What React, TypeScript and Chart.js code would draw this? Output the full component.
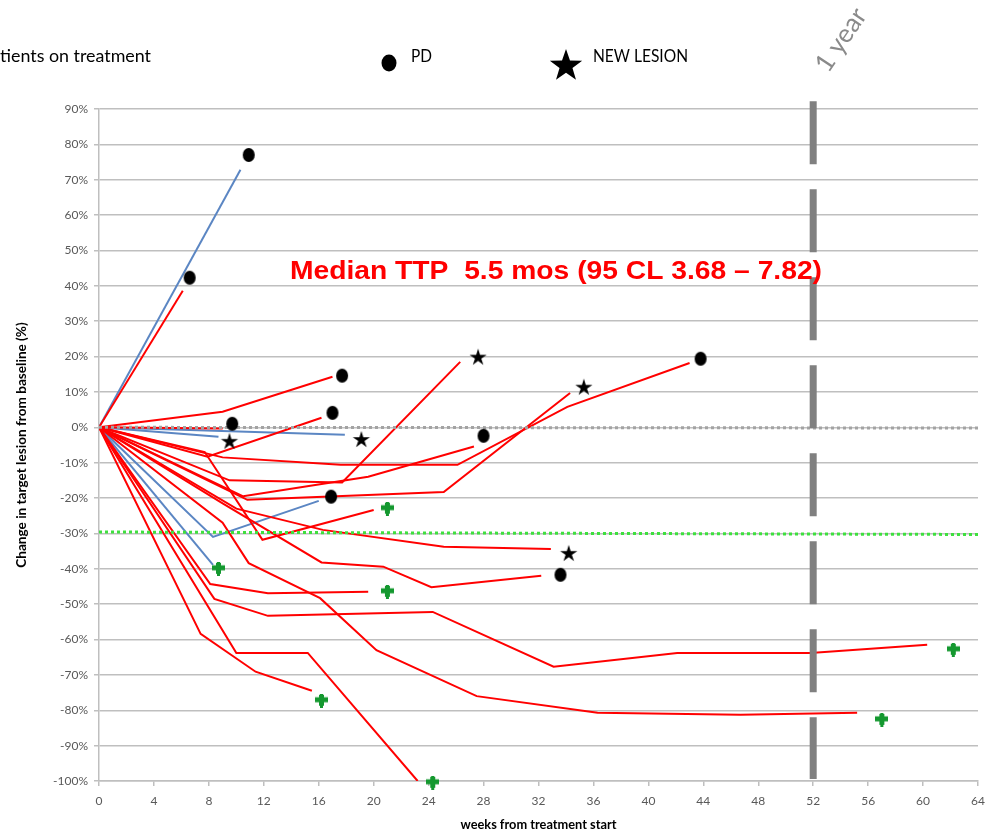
import React, { useEffect, useRef } from "react";
import { Chart, registerables } from "chart.js";

Chart.register(...registerables);

type Pt = [number, number];

// ---- data: [week, % change from baseline] ----
// blue lines
const blue1: Pt[] = [[0, 0], [10.3, 72.8]];
const blue2: Pt[] = [[0, 0], [8.7, -2.7]];
const blue3: Pt[] = [[0, 0], [17.9, -2.1]];
const blue4: Pt[] = [[0, 0], [8.3, -31], [16.0, -20.8]];
const blue5: Pt[] = [[0, 0], [8.3, -38.9]];

// red lines
const red0: Pt[] = [[0, 0], [9, -0.3]];
const red1: Pt[] = [[0, 0], [6.1, 38.6]];
const red2: Pt[] = [[0, 0], [9.0, 4.4], [17.0, 14.3]];
const red3: Pt[] = [[0, 0], [7.9, -8.3], [16.2, 2.7]];
const red4: Pt[] = [[0, 0], [7.7, -7], [11.9, -31.8], [20.0, -23.4]];
const red5: Pt[] = [[0, 0], [9.5, -15], [17.7, -15.6], [26.3, 18.5]];
const red6: Pt[] = [[0, 0], [9.0, -8.5], [17.6, -10.6], [26.1, -10.6], [34.1, 5.8], [43.0, 18.2]];
const red7: Pt[] = [[0, 0], [10.8, -20.5], [25.1, -18.3], [34.3, 9.7]];
const red8: Pt[] = [[0, 0], [10.5, -19.5], [19.6, -14], [27.3, -5.4]];
const red9: Pt[] = [[0, 0], [10, -23], [16.3, -29], [25.1, -33.8], [32.9, -34.4]];
const red10: Pt[] = [[0, 0], [9, -21.5], [16.2, -38.2], [20.7, -39.4], [24.2, -45.2], [32.2, -42]];
const red11: Pt[] = [[0, 0], [8.1, -44.3], [12.3, -46.9], [19.6, -46.5]];
const red12: Pt[] = [[0, 0], [8.4, -48.5], [12.3, -53.3], [24.3, -52.2], [33.1, -67.7], [42.1, -63.8], [51.8, -63.8], [60.3, -61.5]];
const red13: Pt[] = [[0, 0], [9, -27], [10.9, -38.4], [16.1, -48.3], [20.2, -63], [27.5, -76], [36.3, -80.7], [46.7, -81.3], [55.2, -80.7]];
const red14: Pt[] = [[0, 0], [10, -63.8], [15.2, -63.8], [23.2, -100]];
const red15: Pt[] = [[0, 0], [7.4, -58.4], [11.4, -69.1], [15.5, -74.5]];

// markers
const pdPoints: Pt[] = [[10.9, 77], [6.6, 42.3], [17.7, 14.6], [17, 4.1], [9.7, 1.0], [16.9, -19.6], [28, -2.4], [43.8, 19.4], [33.6, -41.7]];
const newLesionPoints: Pt[] = [[9.5, -3.8], [19.1, -3.3], [27.6, 20], [35.3, 11.5], [34.2, -35.5]];
const onTreatmentPoints: Pt[] = [[8.7, -40], [21, -23], [21, -46.5], [16.2, -77.3], [24.3, -100.5], [57, -82.7], [62.2, -62.9]];

// reference lines
const zeroLine: Pt[] = [[0, 0], [64, -0.2]];
const prLine: Pt[] = [[0, -29.6], [64, -30.3]];
const oneYearLine: Pt[] = [[52, 92.2], [52, -99.4]];

// axes
const weekTicks = [0, 4, 8, 12, 16, 20, 24, 28, 32, 36, 40, 44, 48, 52, 56, 60, 64];
const pctTicks = [-100, -90, -80, -70, -60, -50, -40, -30, -20, -10, 0, 10, 20, 30, 40, 50, 60, 70, 80, 90];

const blueLines = [blue1, blue2, blue3, blue4, blue5];
const redLines = [red0, red1, red2, red3, red4, red5, red6, red7, red8, red9, red10, red11, red12, red13, red14, red15];

const RED = "#ff0000";
const BLUE = "#5b86c3";
const GREEN_MARK = "#14982f";

function toXY(pts: Pt[]) {
  return pts.map(([x, y]) => ({ x, y }));
}

function makeEllipse(rx: number, ry: number, color: string) {
  const c = document.createElement("canvas");
  c.width = Math.ceil(rx * 2 + 2);
  c.height = Math.ceil(ry * 2 + 2);
  const g = c.getContext("2d")!;
  g.fillStyle = color;
  g.beginPath();
  g.ellipse(c.width / 2, c.height / 2, rx, ry, 0, 0, Math.PI * 2);
  g.fill();
  return c;
}

function starPath(g: CanvasRenderingContext2D, cx: number, cy: number, outer: number, inner: number) {
  g.beginPath();
  for (let i = 0; i < 10; i++) {
    const r = i % 2 === 0 ? outer : inner;
    const a = -Math.PI / 2 + (i * Math.PI) / 5;
    const x = cx + r * Math.cos(a);
    const y = cy + r * Math.sin(a);
    if (i === 0) g.moveTo(x, y);
    else g.lineTo(x, y);
  }
  g.closePath();
}

function makeStar(outer: number, inner: number, color: string) {
  const c = document.createElement("canvas");
  const s = Math.ceil(outer * 2 + 2);
  c.width = s;
  c.height = s;
  const g = c.getContext("2d")!;
  g.fillStyle = color;
  starPath(g, s / 2, s / 2 + 1, outer, inner);
  g.fill();
  return c;
}

function makePlus(w: number, h: number, t: number, color: string) {
  const c = document.createElement("canvas");
  c.width = w;
  c.height = h;
  const g = c.getContext("2d")!;
  g.fillStyle = color;
  g.fillRect(0, (h - t) / 2 - 1, w, t);
  g.fillRect((w - t) / 2 + 1, 0, t - 2, h);
  g.fillRect((w - t) / 2, 1, t, h - 3);
  return c;
}

// draw text stretched horizontally so that it spans exactly `width` px starting at x
function fitText(ctx: CanvasRenderingContext2D, text: string, x: number, y: number, width: number) {
  const w = ctx.measureText(text).width;
  ctx.save();
  ctx.translate(x, y);
  ctx.scale(width / w, 1);
  ctx.textAlign = "left";
  ctx.fillText(text, 0, 0);
  ctx.restore();
}

const overlayPlugin = {
  id: "overlayText",
  afterDraw(chart: any) {
    const ctx: CanvasRenderingContext2D = chart.ctx;
    ctx.save();
    // top legend
    ctx.fillStyle = "#000";
    ctx.font = "17px Lato";
    ctx.textBaseline = "middle";
    {
      const full = "Patients on treatment";
      const tail = ctx.measureText("tients on treatment").width;
      const fw = ctx.measureText(full).width;
      const k = 151 / tail;
      ctx.save();
      ctx.translate(151, 57);
      ctx.scale(k, 1);
      ctx.textAlign = "left";
      ctx.fillText(full, -fw, 0);
      ctx.restore();
    }
    fitText(ctx, "PD", 411, 57, 21);
    fitText(ctx, "NEW LESION", 593, 57, 95);
    ctx.beginPath();
    ctx.ellipse(389, 63, 7.5, 8.5, 0, 0, Math.PI * 2);
    ctx.fill();
    starPath(ctx, 566, 66, 17, 6.8);
    ctx.fill();

    // median TTP annotation
    ctx.fillStyle = RED;
    ctx.font = "bold 25px 'Liberation Sans'";
    fitText(ctx, "Median TTP  5.5 mos (95 CL 3.68 \u2013 7.82)", 290, 272, 532);

    // 1 year label
    ctx.translate(841, 40);
    ctx.rotate((-56 * Math.PI) / 180);
    ctx.fillStyle = "#8a8a8a";
    ctx.font = "26px Lato";
    ctx.textAlign = "center";
    ctx.fillText("1 year", 0, 0);
    ctx.restore();
  },
};

export default function App() {
  const ref = useRef<HTMLCanvasElement | null>(null);

  useEffect(() => {
    if (!ref.current) return;
    const pdImg = makeEllipse(6, 7, "#000");
    const starImg = makeStar(9, 3.3, "#000");
    const plusImg = makePlus(13, 14, 5, GREEN_MARK);

    const lineDs = (pts: Pt[], color: string) => ({
      data: toXY(pts),
      showLine: true,
      borderColor: color,
      backgroundColor: color,
      borderWidth: 2,
      pointRadius: 0,
      fill: false,
      tension: 0,
      order: 3,
    });

    const chart = new Chart(ref.current, {
      type: "scatter",
      data: {
        datasets: [
          ...redLines.map((p) => lineDs(p, RED)),
          ...blueLines.map((p) => lineDs(p, BLUE)),
          {
            data: toXY(zeroLine),
            showLine: true,
            borderColor: "#a3a3a3",
            borderWidth: 3,
            borderDash: [3, 3],
            pointRadius: 0,
            order: 2,
          },
          {
            data: toXY(prLine),
            showLine: true,
            borderColor: "#3ee03e",
            borderWidth: 3,
            borderDash: [3, 3],
            pointRadius: 0,
            order: 2,
          },
          {
            data: toXY(oneYearLine),
            showLine: true,
            borderColor: "#808080",
            borderWidth: 7,
            borderDash: [63, 25],
            pointRadius: 0,
            clip: false,
            order: 1,
          },
          {
            data: toXY(pdPoints),
            pointStyle: pdImg,
            pointRadius: 7,
            clip: false,
            order: 0,
          },
          {
            data: toXY(newLesionPoints),
            pointStyle: starImg,
            pointRadius: 9,
            clip: false,
            order: 0,
          },
          {
            data: toXY(onTreatmentPoints),
            pointStyle: plusImg,
            pointRadius: 7,
            clip: false,
            order: 0,
          },
        ] as any,
      },
      options: {
        animation: false,
        responsive: false,
        maintainAspectRatio: false,
        layout: { padding: { top: 109, right: 27, left: 0, bottom: 0 } },
        plugins: {
          legend: { display: false },
          tooltip: { enabled: false },
        },
        scales: {
          x: {
            type: "linear",
            min: 0,
            max: 64,
            afterBuildTicks: (s: any) => {
              s.ticks = weekTicks.map((v) => ({ value: v }));
            },
            afterFit: (s: any) => {
              s.height = 55;
            },
            ticks: {
              color: "#595959",
              font: { family: "Lato", size: 12 },
              padding: 8,
              maxRotation: 0,
              autoSkip: false,
            },
            grid: {
              drawOnChartArea: false,
              drawTicks: true,
              tickLength: 5,
              color: "#bfbfbf",
              lineWidth: 1.5,
            },
            border: { color: "#bfbfbf", width: 1.5 },
            title: {
              display: true,
              text: "weeks from treatment start",
              color: "#000",
              font: { family: "Lato", size: 12.8, weight: "bold" },
              padding: { top: 0, bottom: 3 },
            },
          },
          y: {
            type: "linear",
            min: -100,
            max: 90,
            afterBuildTicks: (s: any) => {
              s.ticks = pctTicks.map((v) => ({ value: v }));
            },
            afterFit: (s: any) => {
              s.width = 99;
            },
            ticks: {
              color: "#595959",
              font: { family: "Lato", size: 12 },
              padding: 6,
              autoSkip: false,
              callback: (v: any) => `${v}%`,
            },
            grid: {
              color: "#bfbfbf",
              lineWidth: 1.5,
              tickLength: 5,
            },
            border: { color: "#bfbfbf", width: 1.5 },
            title: {
              display: true,
              text: "Change in target lesion from baseline (%)",
              color: "#000",
              font: { family: "Lato", size: 13.6, weight: "bold" },
              padding: { top: 13, bottom: 0 },
            },
          },
        },
      } as any,
      plugins: [overlayPlugin],
    });
    return () => chart.destroy();
  }, []);

  return (
    <div style={{ position: "absolute", left: 0, top: 0, width: 1005, height: 836, background: "#fff" }}>
      <canvas ref={ref} width={1005} height={836} style={{ display: "block" }} />
    </div>
  );
}
